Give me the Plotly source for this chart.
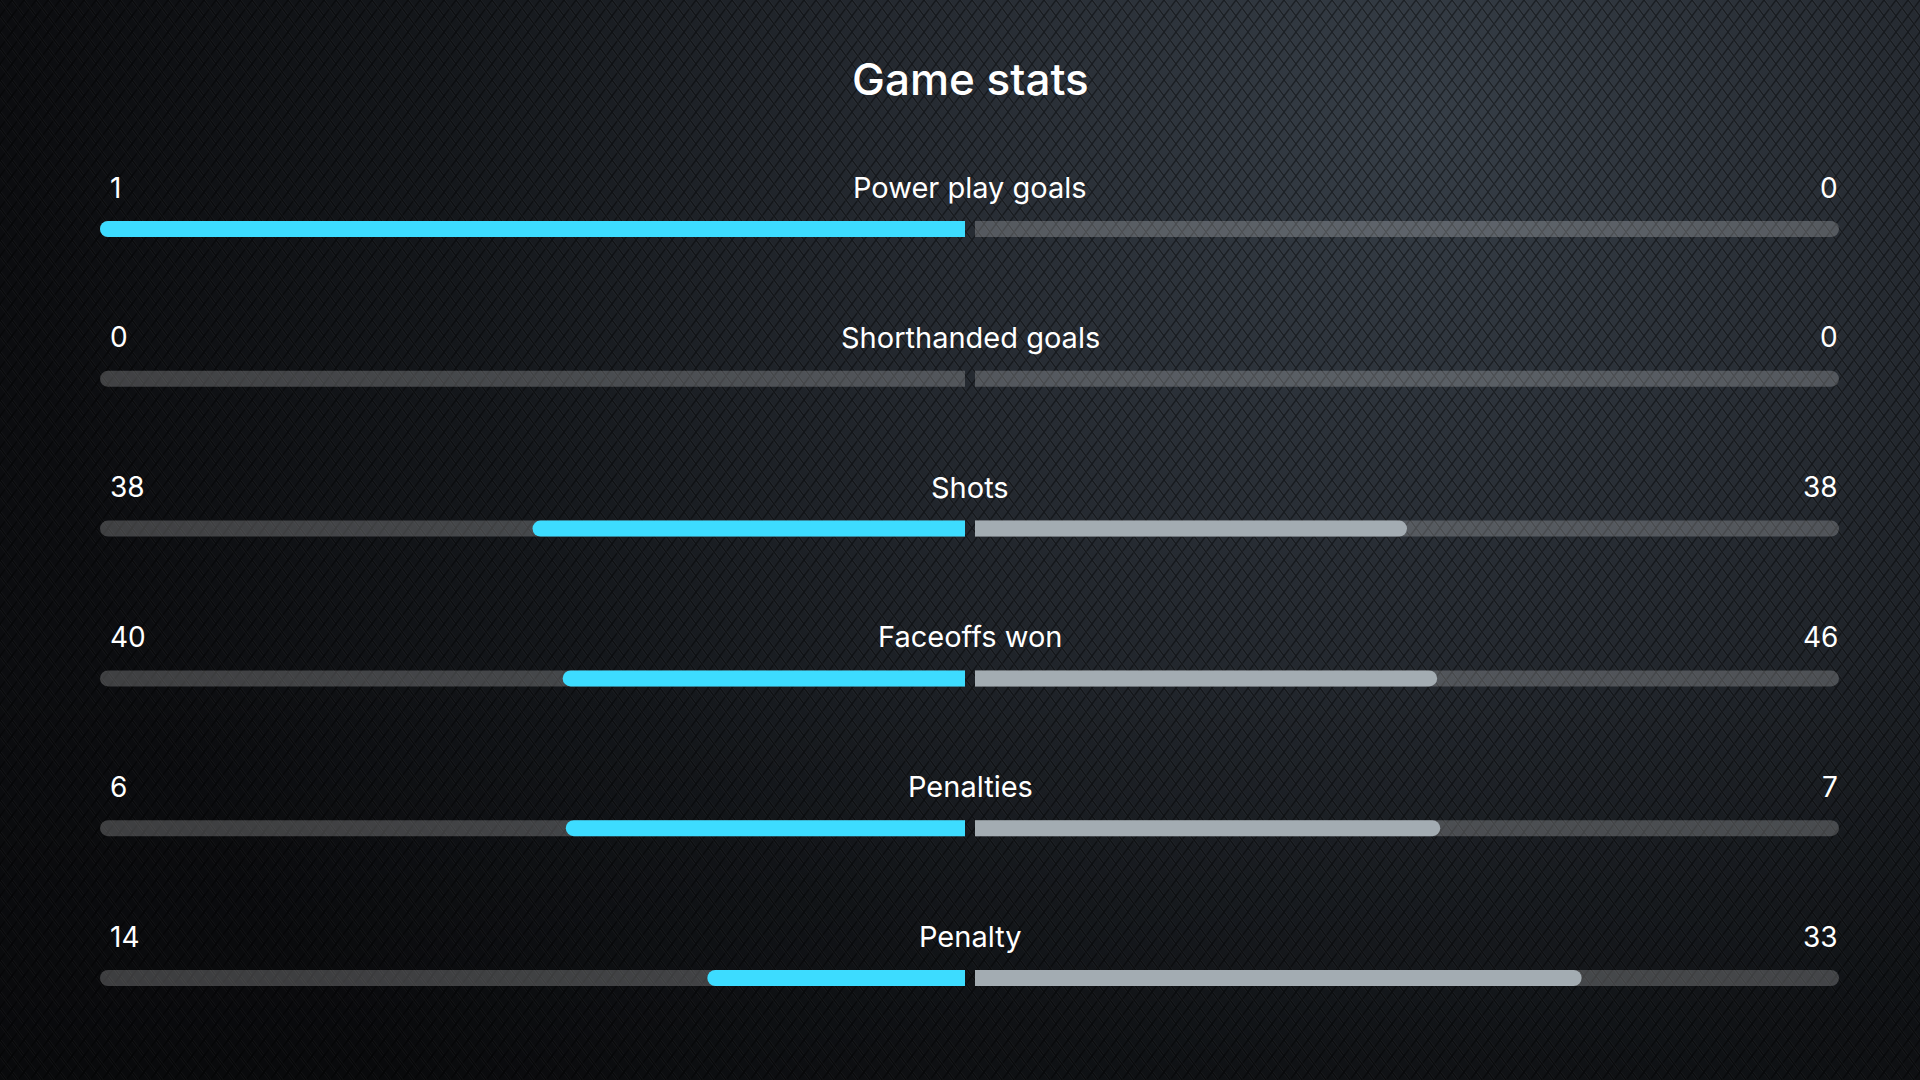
import base64
import plotly.graph_objects as go

# ---------------- data ----------------
categories = ["Power play goals", "Shorthanded goals", "Shots", "Faceoffs won", "Penalties", "Penalty"]
home_values = [1, 0, 38, 40, 6, 14]
away_values = [0, 0, 38, 46, 7, 33]
title_text = "Game stats"

# ---------------- styling ----------------
W, H = 1920, 1080
CYAN = "#3ddcff"
LIGHT = "#a3acb2"
TRACK = "rgba(255,255,255,0.21)"
FONT = "Inter, Roboto, 'Open Sans', sans-serif"
RADIUS = 8

row_top_px = 229.0
row_step_px = 149.8
bar_px = 16

def frac(a, b):
    t = a + b
    return a / t if t else 0.0

home_frac = [frac(h, a) for h, a in zip(home_values, away_values)]
away_frac = [frac(a, h) for h, a in zip(home_values, away_values)]
rows = list(range(len(categories)))

# background svg (gradient + diamond mesh)
svg = f'''<svg xmlns="http://www.w3.org/2000/svg" width="{W}" height="{H}" viewBox="0 0 {W} {H}">
<defs>
<radialGradient id="g1" cx="1420" cy="120" r="1400" gradientUnits="userSpaceOnUse">
<stop offset="0" stop-color="#363e47"/>
<stop offset="0.35" stop-color="#262b32"/>
<stop offset="0.7" stop-color="#14171b"/>
<stop offset="1" stop-color="#0c0d10"/>
</radialGradient>
<linearGradient id="g2" x1="0" y1="0" x2="0" y2="1">
<stop offset="0.6" stop-color="#000" stop-opacity="0"/>
<stop offset="1" stop-color="#000" stop-opacity="0.25"/>
</linearGradient>
<pattern id="p" width="12" height="16" patternUnits="userSpaceOnUse">
<path d="M0,0 L12,16 M12,0 L0,16" stroke="#000" stroke-opacity="0.42" stroke-width="1.4" fill="none"/>
<path d="M1.2,0 L12,14.4 M0,1.6 L10.8,16" stroke="#fff" stroke-opacity="0.035" stroke-width="1" fill="none"/>
</pattern>
</defs>
<rect width="{W}" height="{H}" fill="url(#g1)"/>
<rect width="{W}" height="{H}" fill="url(#g2)"/>
<rect width="{W}" height="{H}" fill="url(#p)"/>
</svg>'''
bg_uri = "data:image/svg+xml;base64," + base64.b64encode(svg.encode()).decode()

fig = go.Figure()

bw = bar_px / row_step_px

def add_bar(xvals, color, xaxis, yaxis):
    fig.add_trace(go.Bar(y=rows, x=xvals, orientation="h", width=bw,
                         marker=dict(color=color, line=dict(width=0), cornerradius=RADIUS),
                         xaxis=xaxis, yaxis=yaxis, hoverinfo="skip", showlegend=False))

# tracks (subplots x-y, x2-y)
add_bar([-1] * len(rows), TRACK, "x", "y")
add_bar([1] * len(rows), TRACK, "x2", "y")
# fills on an overlaying y axis so each bar keeps its own rounded end
add_bar([-f for f in home_frac], CYAN, "x", "y2")
add_bar(away_frac, LIGHT, "x2", "y2")

y0 = -row_top_px / row_step_px
y1 = (H - row_top_px) / row_step_px

label_off = 41.5 / row_step_px
annotations = [dict(text=title_text, x=970 / W, y=1 - 79 / H, xref="paper", yref="paper",
                    showarrow=False, font=dict(family=FONT, size=44, color="white", weight=500),
                    xanchor="center", yanchor="middle")]
for i, cat in enumerate(categories):
    yy = i - label_off
    annotations.append(dict(text=cat, x=970 / W, y=yy, xref="paper", yref="y", showarrow=False,
                            xanchor="center", yanchor="middle",
                            font=dict(family=FONT, size=29, color="white")))
    annotations.append(dict(text=str(home_values[i]), x=108 / W, y=yy, xref="paper", yref="y",
                            showarrow=False, xanchor="left", yanchor="middle",
                            font=dict(family=FONT, size=28, color="white")))
    annotations.append(dict(text=str(away_values[i]), x=1840 / W, y=yy, xref="paper", yref="y",
                            showarrow=False, xanchor="right", yanchor="middle",
                            font=dict(family=FONT, size=28, color="white")))

axis_common = dict(showgrid=False, zeroline=False, showticklabels=False, showline=False, fixedrange=True)
fig.update_layout(
    width=W, height=H,
    margin=dict(l=0, r=0, t=0, b=0),
    paper_bgcolor="#101216",
    plot_bgcolor="rgba(0,0,0,0)",
    barmode="overlay",
    barcornerradius=RADIUS,
    xaxis=dict(domain=[100 / W, 965 / W], range=[-1, 0], **axis_common),
    xaxis2=dict(domain=[975 / W, 1839 / W], range=[0, 1], anchor="y", **axis_common),
    yaxis=dict(range=[y1, y0], **axis_common),
    yaxis2=dict(range=[y1, y0], overlaying="y", **axis_common),
    annotations=annotations,
    images=[dict(source=bg_uri, xref="paper", yref="paper", x=0, y=1, sizex=1, sizey=1,
                 sizing="stretch", layer="below", xanchor="left", yanchor="top")],
    hovermode=False,
)

fig.write_html("out.html", config=dict(displayModeBar=False),
               post_script="document.body.style.margin='0';document.body.style.background='#101216';")
